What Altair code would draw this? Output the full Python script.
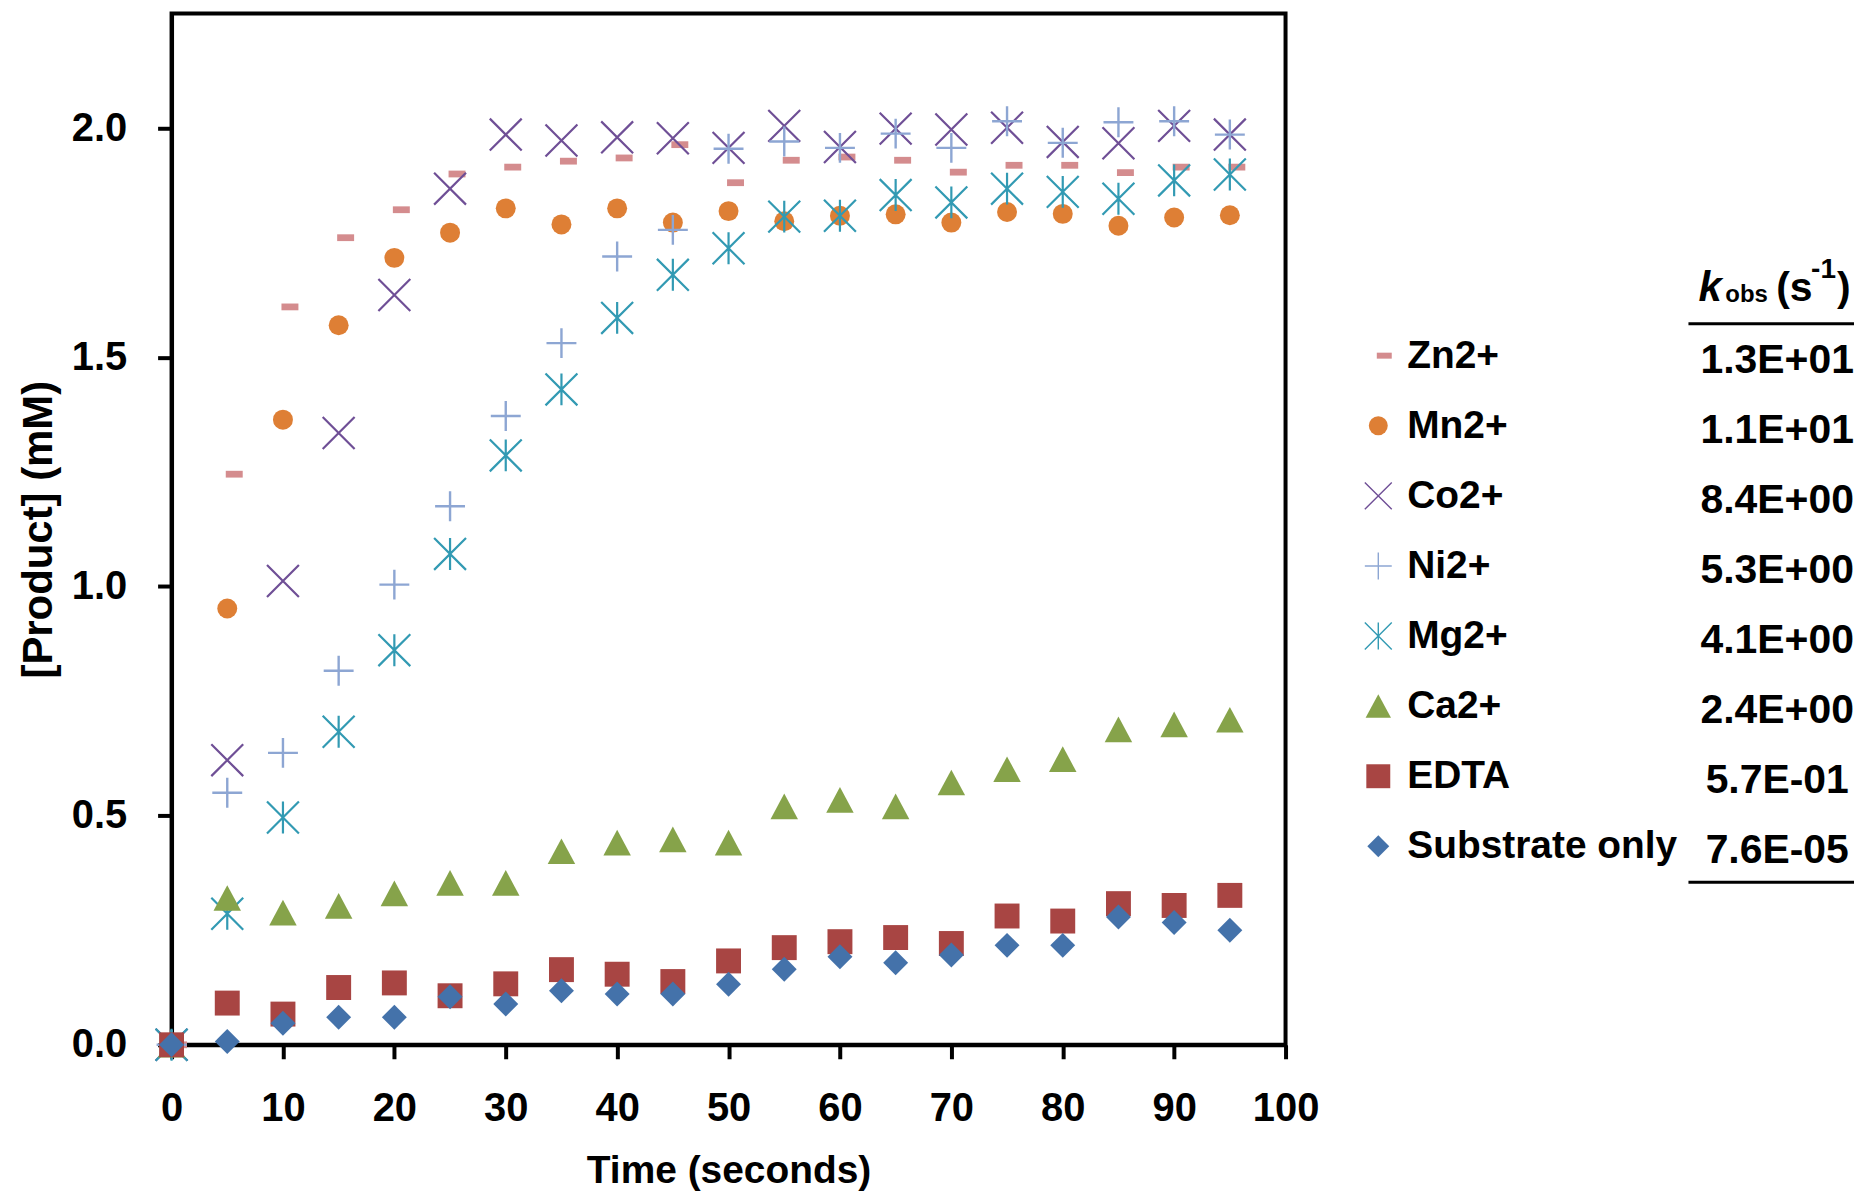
import altair as alt
import pandas as pd

FONT = "Liberation Sans"

# ---------------- data ----------------
time_s = [0, 5, 10, 15, 20, 25, 30, 35, 40, 45, 50, 55, 60, 65, 70, 75, 80, 85, 90, 95]

series_names = ["Zn2+", "Mn2+", "Co2+", "Ni2+", "Mg2+", "Ca2+", "EDTA", "Substrate only"]

zn = [0, 1.245, 1.610, 1.761, 1.822, 1.900, 1.915, 1.928, 1.935, 1.964,
      1.881, 1.930, 1.937, 1.930, 1.904, 1.919, 1.919, 1.903, 1.915, 1.915]
mn = [0, 0.952, 1.364, 1.570, 1.717, 1.772, 1.825, 1.790, 1.825, 1.794,
      1.819, 1.797, 1.809, 1.812, 1.794, 1.817, 1.813, 1.787, 1.805, 1.810]
co = [0, 0.621, 1.012, 1.335, 1.636, 1.868, 1.986, 1.973, 1.980, 1.978,
      1.957, 2.005, 1.959, 1.999, 1.997, 2.001, 1.970, 1.967, 2.005, 1.986]
ni = [0, 0.550, 0.637, 0.816, 1.004, 1.175, 1.372, 1.531, 1.720, 1.778,
      1.955, 1.971, 1.957, 1.988, 1.957, 2.015, 1.968, 2.013, 2.015, 1.986]
mg = [0, 0.286, 0.496, 0.683, 0.861, 1.071, 1.286, 1.430, 1.586, 1.680,
      1.738, 1.807, 1.809, 1.854, 1.838, 1.868, 1.861, 1.846, 1.886, 1.899]
ca = [0, 0.320, 0.288, 0.303, 0.330, 0.353, 0.353, 0.422, 0.441, 0.448,
      0.441, 0.520, 0.534, 0.520, 0.572, 0.601, 0.623, 0.688, 0.699, 0.709]
edta = [0, 0.091, 0.067, 0.125, 0.135, 0.107, 0.133, 0.164, 0.154, 0.138,
        0.183, 0.212, 0.225, 0.234, 0.221, 0.281, 0.270, 0.308, 0.304, 0.326]
substrate = [0, 0.007, 0.047, 0.060, 0.060, 0.105, 0.089, 0.118, 0.111, 0.111,
             0.132, 0.165, 0.192, 0.179, 0.196, 0.217, 0.217, 0.279, 0.267, 0.250]

k_obs = ["1.3E+01", "1.1E+01", "8.4E+00", "5.3E+00", "4.1E+00", "2.4E+00", "5.7E-01", "7.6E-05"]

x_ticks = [0, 10, 20, 30, 40, 50, 60, 70, 80, 90, 100]
y_ticks = [0.0, 0.5, 1.0, 1.5, 2.0]

all_values = [zn, mn, co, ni, mg, ca, edta, substrate]

rows = []
for name, vals in zip(series_names, all_values):
    for t, v in zip(time_s, vals):
        rows.append({"series": name, "time": t, "value": v})
df_main = pd.DataFrame(rows)

df_leg = pd.DataFrame({"series": series_names, "idx": list(range(len(series_names))), "k": k_obs})

# ---------------- styles ----------------
DASH = "M-1,-0.4L1,-0.4L1,0.4L-1,0.4Z"
XMARK = "M-1,-1L1,1M-1,1L1,-1"
PLUS = "M-1,0L1,0M0,-1L0,1"
STAR = "M-1,-1L1,1M-1,1L1,-1M0,-1L0,1"
TRI = "M0,-1L1.06,0.98L-1.06,0.98Z"
DIAM = "M0,-1L1,0L0,1L-1,0Z"

# shape, main size, legend size, filled, color, main stroke, legend stroke, main xoff, legend x
styles = {
    "Zn2+": (DASH, 289, 225, True, "#D48C8E", 0, 0, 7, 1216),
    "Mn2+": ("circle", 400, 361, True, "#DE7F35", 0, 0, 0, 1210),
    "Co2+": (XMARK, 1024, 729, False, "#6F4F96", 2.2, 1.4, 0, 1210),
    "Ni2+": (PLUS, 900, 729, False, "#8DA6D3", 2.4, 1.4, 0, 1210),
    "Mg2+": (STAR, 1024, 729, False, "#329AB3", 2.2, 1.4, 0, 1210),
    "Ca2+": (TRI, 676, 576, True, "#86A34A", 0, 0, 0, 1210),
    "EDTA": ("square", 625, 576, True, "#A84543", 0, 0, 0, 1210),
    "Substrate only": (DIAM, 625, 484, True, "#4472AA", 0, 0, 0, 1210),
}

x_enc = alt.X("time:Q",
              scale=alt.Scale(domain=[0, 100], nice=False, zero=False),
              axis=alt.Axis(values=x_ticks, title="Time (seconds)", format="d"))
y_enc = alt.Y("value:Q",
              scale=alt.Scale(domain=[0, 2.25], nice=False),
              axis=alt.Axis(values=y_ticks, title="[Product] (mM)", format=".1f"))

main_layers = []
for name in series_names:
    shape, size, _, filled, color, sw, _, xoff, _ = styles[name]
    kw = dict(shape=shape, size=size, filled=filled, color=color, opacity=1)
    if not filled:
        kw["strokeWidth"] = sw
    if xoff:
        kw["xOffset"] = xoff
    main_layers.append(
        alt.Chart(df_main).transform_filter(alt.datum.series == name)
        .mark_point(**kw).encode(x=x_enc, y=y_enc)
    )
main = alt.layer(*main_layers)

# ---------------- legend + k_obs table ----------------
leg_y = alt.Y("idx:Q", scale=alt.Scale(domain=[0, 7], range=[343, 835]), axis=None)

legend_layers = []
for name in series_names:
    shape, _, lsize, filled, color, _, lsw, _, lx = styles[name]
    kw = dict(shape=shape, size=lsize, filled=filled, color=color, opacity=1)
    if not filled:
        kw["strokeWidth"] = lsw
    legend_layers.append(
        alt.Chart(df_leg).transform_filter(alt.datum.series == name)
        .mark_point(**kw).encode(x=alt.value(lx), y=leg_y)
    )

legend_layers.append(
    alt.Chart(df_leg).mark_text(align="left", baseline="middle", font=FONT, fontSize=39,
                                fontWeight="bold", color="black")
    .encode(x=alt.value(1239), y=leg_y, text="series:N")
)
legend_layers.append(
    alt.Chart(df_leg).mark_text(align="center", baseline="middle", font=FONT, fontSize=41,
                                fontWeight="bold", color="black", dy=5)
    .encode(x=alt.value(1610), y=leg_y, text="k:N")
)

# header "k_obs (s^-1)"
header_parts = [
    ("k", 1531, 288, 42, "italic"),
    ("obs", 1558, 289, 24, "normal"),
    ("(s", 1609, 288, 41, "normal"),
    ("-1", 1644, 265, 28, "normal"),
    (")", 1670, 288, 41, "normal"),
]
for txt, hx, hy, fs, style in header_parts:
    legend_layers.append(
        alt.Chart(pd.DataFrame({"t": [txt]}))
        .mark_text(align="left", baseline="alphabetic", font=FONT, fontSize=fs,
                   fontWeight="bold", fontStyle=style, color="black")
        .encode(x=alt.value(hx), y=alt.value(hy), text="t:N")
    )

for ry in [311, 871]:
    legend_layers.append(
        alt.Chart(pd.DataFrame({"r": [0]}))
        .mark_rule(color="black", strokeWidth=3)
        .encode(x=alt.value(1521), x2=alt.value(1687), y=alt.value(ry))
    )

legend = alt.layer(*legend_layers)

chart = (
    alt.layer(main, legend)
    .resolve_scale(y="independent")
    .properties(width=1117, height=1034,
                padding={"left": 9, "top": 4, "right": 0, "bottom": 0})
    .configure_view(stroke="black", strokeWidth=4)
    .configure_axis(domainColor="black", domainWidth=4, tickColor="black", tickWidth=4,
                    tickSize=14, labelFont=FONT, labelFontSize=40, labelFontWeight="bold",
                    labelColor="black", titleFont=FONT, titleFontSize=39,
                    titleFontWeight="bold", titleColor="black", grid=False,
                    labelFlush=False, labelOverlap=False)
    .configure_axisX(labelPadding=30, titlePadding=23)
    .configure_axisY(labelPadding=31, titlePadding=11, titleFontSize=42)
)

chart.save("out.html", embed_options={"renderer": "svg", "actions": False})
